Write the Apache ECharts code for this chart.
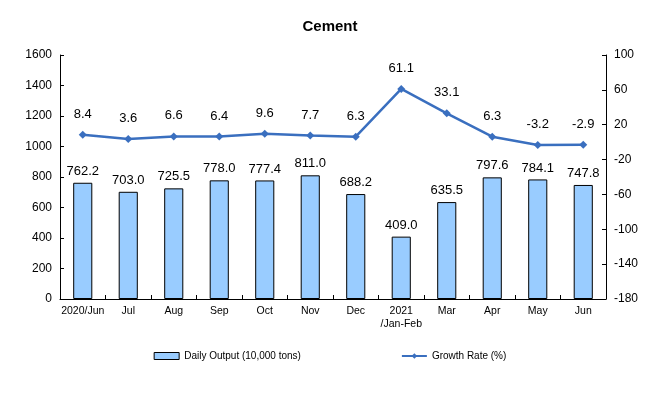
<!DOCTYPE html>
<html>
<head>
<meta charset="utf-8">
<script src="https://cdn.jsdelivr.net/npm/echarts@6/dist/echarts.min.js"></script>
<style>
  html, body { margin: 0; padding: 0; background: #fff; }
  #chart { width: 660px; height: 396px; }
</style>
</head>
<body>
<div id="chart"></div>
<script>
const months = ['2020/Jun', 'Jul', 'Aug', 'Sep', 'Oct', 'Nov', 'Dec', '2021\n/Jan-Feb', 'Mar', 'Apr', 'May', 'Jun']
const dailyOutput = [762.2, 703.0, 725.5, 778.0, 777.4, 811.0, 688.2, 409.0, 635.5, 797.6, 784.1, 747.8]
const growthRate = [8.4, 3.6, 6.6, 6.4, 9.6, 7.7, 6.3, 61.1, 33.1, 6.3, -3.2, -2.9]

const FONT = 'Liberation Sans, Arial, sans-serif'
const chart = echarts.init(document.getElementById('chart'), null, { renderer: 'canvas' })

const axisCommon = {
  axisLine: { show: true, lineStyle: { color: '#000', width: 1 } },
  axisTick: { show: true, inside: true, length: 4, lineStyle: { color: '#000' } },
  axisLabel: { color: '#000', fontSize: 12, fontFamily: FONT, formatter: v => String(v) },
  splitLine: { show: false },
}

chart.setOption({
  animation: false,
  title: {
    text: 'Cement',
    left: 'center',
    top: 14,
    textStyle: { color: '#000', fontSize: 15, fontWeight: 'bold', fontFamily: FONT },
  },
  legend: {
    bottom: 30,
    left: 'center',
    itemGap: 100,
    itemWidth: 25,
    itemHeight: 7,
    textStyle: { color: '#000', fontSize: 10, fontFamily: FONT },
    data: [
      { name: 'Daily Output (10,000 tons)', icon: 'rect', itemStyle: { borderWidth: 1 } },
      { name: 'Growth Rate (%)' },
    ],
  },
  grid: { left: 60, right: 54, top: 55, bottom: 97 },
  xAxis: {
    type: 'category',
    data: months,
    axisLine: { lineStyle: { color: '#000' } },
    axisTick: { show: true, inside: true, length: 4, lineStyle: { color: '#000' } },
    axisLabel: { color: '#000', fontSize: 10.5, fontFamily: FONT, interval: 0, margin: 6, lineHeight: 13 },
  },
  yAxis: [
    { type: 'value', min: 0, max: 1600, interval: 200, ...axisCommon },
    { type: 'value', min: -180, max: 100, interval: 40, position: 'right', ...axisCommon },
  ],
  series: [
    {
      name: 'Daily Output (10,000 tons)',
      type: 'bar',
      data: dailyOutput,
      barWidth: '42%',
      itemStyle: { color: '#99ccff', borderColor: '#000', borderWidth: 1 },
      label: {
        show: true, position: 'top', distance: 5,
        color: '#000', fontSize: 13, fontFamily: FONT,
        formatter: p => p.value.toFixed(1),
      },
    },
    {
      name: 'Growth Rate (%)',
      type: 'line',
      yAxisIndex: 1,
      data: growthRate,
      symbol: 'diamond',
      symbolSize: 8,
      lineStyle: { color: '#3a6fbf', width: 2.5 },
      itemStyle: { color: '#3a6fbf' },
      label: {
        show: true, position: 'top', distance: 10,
        color: '#000', fontSize: 13, fontFamily: FONT,
        formatter: p => p.value.toFixed(1),
      },
    },
  ],
})
</script>
</body>
</html>
